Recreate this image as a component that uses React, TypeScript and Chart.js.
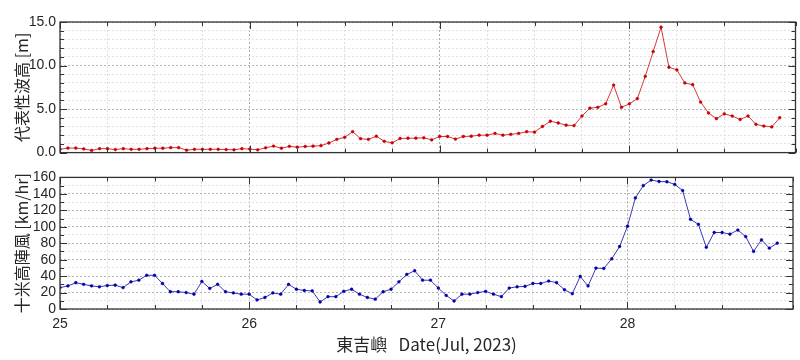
import React, { useEffect, useRef } from "react";
import { Chart, registerables } from "chart.js";

Chart.register(...registerables);

// ---- data ----
const START_DAY = 25; // Jul 25, 2023 00:00, hourly samples
const X_MIN = 25;
const X_MAX = 28.875;
const dayLabels = [25, 26, 27, 28];

const waveHeight = [
  // Jul 25
  0.38, 0.52, 0.52, 0.42, 0.25, 0.45, 0.45, 0.35, 0.45, 0.38, 0.38, 0.45,
  0.5, 0.5, 0.57, 0.57, 0.28, 0.38, 0.38, 0.38, 0.38, 0.35, 0.32, 0.45,
  // Jul 26
  0.4, 0.32, 0.55, 0.75, 0.5, 0.72, 0.62, 0.7, 0.74, 0.8, 1.1, 1.52,
  1.76, 2.4, 1.6, 1.52, 1.88, 1.3, 1.12, 1.62, 1.65, 1.66, 1.7, 1.46,
  // Jul 27
  1.85, 1.85, 1.55, 1.85, 1.88, 2.0, 2.0, 2.2, 2.0, 2.1, 2.2, 2.4,
  2.35, 3.0, 3.6, 3.4, 3.15, 3.1, 4.2, 5.1, 5.2, 5.6, 7.75, 5.2,
  // Jul 28
  5.6, 6.2, 8.75, 11.6, 14.4, 9.8, 9.5, 8.0, 7.8, 5.8, 4.55, 3.9,
  4.45, 4.2, 3.8, 4.2, 3.25, 3.05, 2.95, 4.0,
];

const gustSpeed = [
  // Jul 25
  26, 28, 32, 30, 28, 27, 28.5, 29, 26, 33, 35, 41,
  41, 31, 21, 21, 20, 18, 33.5, 25, 30, 21, 19.5, 18,
  // Jul 26
  18, 11, 14, 19.5, 18, 30, 24, 22.5, 22, 8.5, 15, 15,
  21.5, 24, 18, 14, 12, 21, 24, 33, 42, 46.5, 35, 35,
  // Jul 27
  25.5, 16.5, 9.7, 18, 18, 20, 21.4, 18, 15, 25.5, 27, 27.5,
  31, 31, 34, 32, 23.4, 18.6, 39.6, 28, 49.7, 49.3, 61, 76,
  // Jul 28
  100.6, 135, 150, 156.8, 155, 154.7, 151.5, 144, 109, 103, 75, 93,
  93, 91, 96, 88, 70, 84, 74, 80,
];

const waveTitle = "代表性波高 [m]";
const gustTitle = "十米高陣風 [km/hr]";
const xTitle = "東吉嶼   Date(Jul, 2023)";

const toPoints = (vals: number[]) =>
  vals.map((v, i) => ({ x: START_DAY + i / 24, y: v }));

// ---- styles ----
const TICK_FONT = "'Liberation Sans', Arial, sans-serif";
const CJK_FONT = "'Noto Sans CJK TC', 'Noto Sans CJK SC', sans-serif";
const TEXT = "#262626";

const frameTicks = {
  id: "frameTicks",
  afterDraw(chart: any) {
    const { ctx, chartArea: a, scales } = chart;
    const x = scales.x;
    const y = scales.y;
    const major = chart.options.plugins.frameTicks.yMajor;
    ctx.save();
    ctx.strokeStyle = "#333";
    ctx.lineWidth = 1;
    ctx.beginPath();
    x.ticks.forEach((t: any) => {
      const px = Math.round(x.getPixelForValue(t.value)) + 0.5;
      const len = Number.isInteger(t.value) ? 7 : 4;
      ctx.moveTo(px, a.top);
      ctx.lineTo(px, a.top + len);
      ctx.moveTo(px, a.bottom);
      ctx.lineTo(px, a.bottom - len);
    });
    y.ticks.forEach((t: any) => {
      const py = Math.round(y.getPixelForValue(t.value)) + 0.5;
      const len = t.value % major === 0 ? 7 : 4;
      ctx.moveTo(a.left, py);
      ctx.lineTo(a.left + len, py);
      ctx.moveTo(a.right, py);
      ctx.lineTo(a.right - len, py);
    });
    ctx.stroke();
    ctx.lineWidth = 1.3;
    ctx.strokeRect(a.left, a.top, a.right - a.left, a.bottom - a.top);
    ctx.restore();
  },
};

function makeConfig(opts: {
  data: number[];
  color: string;
  pointColor: string;
  yMax: number;
  yStep: number;
  yMajor: number;
  yDecimals: number;
  yTitle: string;
  showX: boolean;
  padTop: number;
  xHeight: number;
}): any {
  return {
    type: "line",
    data: {
      datasets: [
        {
          data: toPoints(opts.data),
          borderColor: opts.color,
          borderWidth: 1,
          pointRadius: 1.4,
          pointBackgroundColor: opts.pointColor,
          pointBorderColor: opts.pointColor,
          pointBorderWidth: 0.5,
          tension: 0,
        },
      ],
    },
    options: {
      responsive: false,
      animation: false,
      layout: { padding: { top: opts.padTop, right: 3, left: 0, bottom: 0 } },
      plugins: {
        legend: { display: false },
        tooltip: { enabled: false },
        frameTicks: { yMajor: opts.yMajor },
      },
      scales: {
        x: {
          type: "linear",
          min: X_MIN,
          max: X_MAX,
          afterFit: (s: any) => {
            s.height = opts.xHeight;
          },
          ticks: {
            display: opts.showX,
            stepSize: 0.25,
            autoSkip: false,
            maxRotation: 0,
            padding: 7,
            color: TEXT,
            font: { family: TICK_FONT, size: 14 },
            callback: (v: number) => (dayLabels.includes(v) ? String(v) : ""),
          },
          grid: {
            drawTicks: false,
            lineWidth: 1,
            color: (c: any) =>
              c.tick && Number.isInteger(c.tick.value) ? "#a8a8a8" : "#dedede",
          },
          border: { display: false, dash: [2, 2] },
          title: {
            display: opts.showX,
            text: xTitle,
            color: TEXT,
            font: { family: CJK_FONT, size: 17 },
            padding: { top: 0, bottom: 5 },
          },
        },
        y: {
          type: "linear",
          min: 0,
          max: opts.yMax,
          afterFit: (s: any) => {
            s.width = 60;
          },
          ticks: {
            stepSize: opts.yStep,
            autoSkip: false,
            padding: 4,
            color: TEXT,
            font: { family: TICK_FONT, size: 14 },
            callback: (v: number) =>
              v % opts.yMajor === 0 ? v.toFixed(opts.yDecimals) : "",
          },
          grid: {
            drawTicks: false,
            lineWidth: 1,
            color: (c: any) =>
              c.tick && c.tick.value % opts.yMajor === 0 ? "#b4b4b4" : "#e0e0e0",
          },
          border: { display: false, dash: [2, 2] },
          title: {
            display: true,
            text: opts.yTitle,
            color: TEXT,
            font: { family: CJK_FONT, size: 16 },
            padding: { top: 12, bottom: 0 },
          },
        },
      },
    },
    plugins: [frameTicks],
  };
}

export default function App() {
  const topRef = useRef<HTMLCanvasElement>(null);
  const botRef = useRef<HTMLCanvasElement>(null);

  useEffect(() => {
    const top = new Chart(
      topRef.current as HTMLCanvasElement,
      makeConfig({
        data: waveHeight,
        color: "#d23a3a",
        pointColor: "#c80000",
        yMax: 15,
        yStep: 1,
        yMajor: 5,
        yDecimals: 1,
        yTitle: waveTitle,
        showX: false,
        padTop: 22,
        xHeight: 11,
      })
    );
    const bot = new Chart(
      botRef.current as HTMLCanvasElement,
      makeConfig({
        data: gustSpeed,
        color: "#3a3ab8",
        pointColor: "#0000a8",
        yMax: 160,
        yStep: 10,
        yMajor: 20,
        yDecimals: 0,
        yTitle: gustTitle,
        showX: true,
        padTop: 12,
        xHeight: 51,
      })
    );
    return () => {
      top.destroy();
      bot.destroy();
    };
  }, []);

  return (
    <div
      style={{
        position: "fixed",
        left: 0,
        top: 0,
        width: 800,
        height: 360,
        background: "#fff",
      }}
    >
      <canvas
        ref={topRef}
        width={800}
        height={165}
        style={{ position: "absolute", left: 0, top: 0, width: 800, height: 165 }}
      />
      <canvas
        ref={botRef}
        width={800}
        height={195}
        style={{ position: "absolute", left: 0, top: 165, width: 800, height: 195 }}
      />
    </div>
  );
}
